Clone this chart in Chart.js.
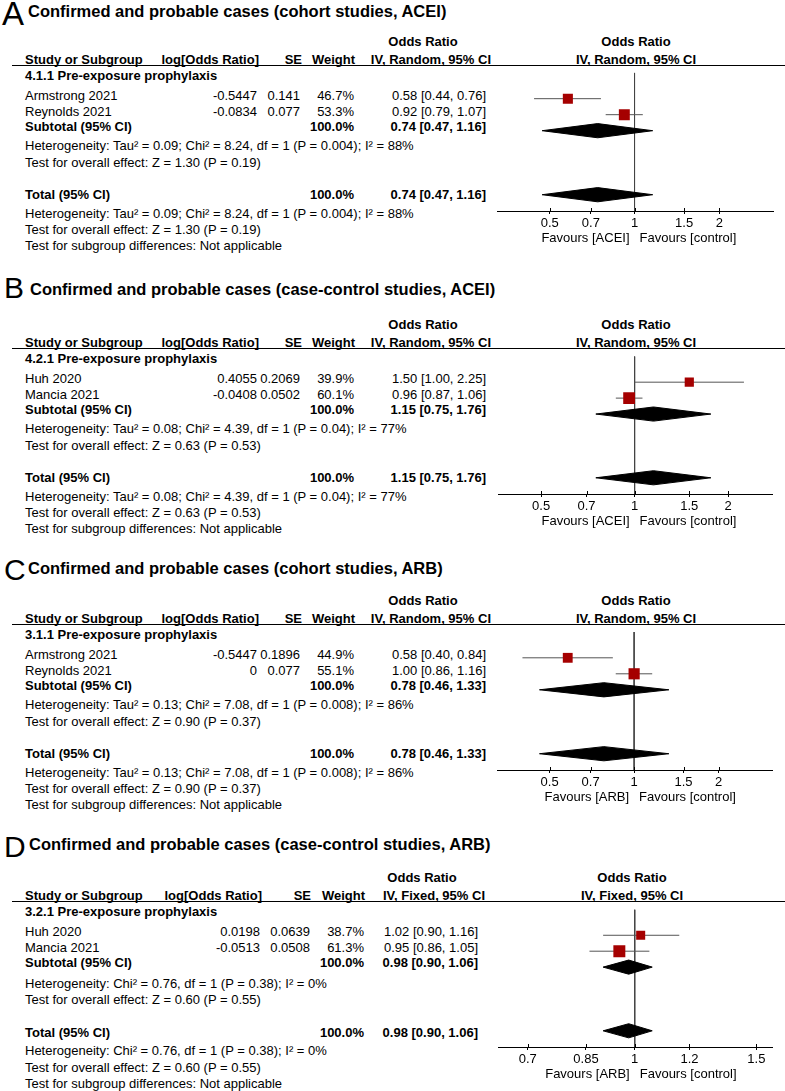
<!DOCTYPE html>
<html>
<head>
<meta charset="utf-8">
<script src="https://cdn.jsdelivr.net/npm/chart.js@4.4.0/dist/chart.umd.min.js"></script>
<style>
  html, body { margin: 0; padding: 0; background: #fff; }
  #page { position: relative; width: 785px; height: 1091px; overflow: hidden;
          font-family: "Liberation Sans", Arial, sans-serif; color: #000; }
  .t { position: absolute; white-space: nowrap; line-height: 1; font-size: 13px; }
  .b { font-weight: bold; }
  .rule { position: absolute; height: 1px; background: #000; }
  canvas { position: absolute; }
</style>
</head>
<body>
<div id="page"></div>
<script>
// ---- data ----
const panelLetters = ["A", "B", "C", "D"];
const titles = [
  "Confirmed and probable cases (cohort studies, ACEI)",
  "Confirmed and probable cases (case-control studies, ACEI)",
  "Confirmed and probable cases (cohort studies, ARB)",
  "Confirmed and probable cases (case-control studies, ARB)"
];
const methods = ["IV, Random, 95% CI", "IV, Random, 95% CI", "IV, Random, 95% CI", "IV, Fixed, 95% CI"];
const groupLabels = [
  "4.1.1 Pre-exposure prophylaxis",
  "4.2.1 Pre-exposure prophylaxis",
  "3.1.1 Pre-exposure prophylaxis",
  "3.2.1 Pre-exposure prophylaxis"
];
const studyNames = [
  ["Armstrong 2021", "Reynolds 2021"],
  ["Huh 2020", "Mancia 2021"],
  ["Armstrong 2021", "Reynolds 2021"],
  ["Huh 2020", "Mancia 2021"]
];
const logOddsRatio = [["-0.5447", "-0.0834"], ["0.4055", "-0.0408"], ["-0.5447", "0"], ["0.0198", "-0.0513"]];
const stdErrors = [["0.141", "0.077"], ["0.2069", "0.0502"], ["0.1896", "0.077"], ["0.0639", "0.0508"]];
const weights = [[46.7, 53.3], [39.9, 60.1], [44.9, 55.1], [38.7, 61.3]];
const oddsRatios = [[0.58, 0.92], [1.50, 0.96], [0.58, 1.00], [1.02, 0.95]];
const ciLower = [[0.44, 0.79], [1.00, 0.87], [0.40, 0.86], [0.90, 0.86]];
const ciUpper = [[0.76, 1.07], [2.25, 1.06], [0.84, 1.16], [1.16, 1.05]];
const pooledOR = [0.74, 1.15, 0.78, 0.98];
const pooledLower = [0.47, 0.75, 0.46, 0.90];
const pooledUpper = [1.16, 1.76, 1.33, 1.06];
const heterogeneity = [
  "Heterogeneity: Tau² = 0.09; Chi² = 8.24, df = 1 (P = 0.004); I² = 88%",
  "Heterogeneity: Tau² = 0.08; Chi² = 4.39, df = 1 (P = 0.04); I² = 77%",
  "Heterogeneity: Tau² = 0.13; Chi² = 7.08, df = 1 (P = 0.008); I² = 86%",
  "Heterogeneity: Chi² = 0.76, df = 1 (P = 0.38); I² = 0%"
];
const overallEffect = [
  "Test for overall effect: Z = 1.30 (P = 0.19)",
  "Test for overall effect: Z = 0.63 (P = 0.53)",
  "Test for overall effect: Z = 0.90 (P = 0.37)",
  "Test for overall effect: Z = 0.60 (P = 0.55)"
];
const subgroupTest = "Test for subgroup differences: Not applicable";
const favoursLeft = ["Favours [ACEI]", "Favours [ACEI]", "Favours [ARB]", "Favours [ARB]"];
const favoursRight = "Favours [control]";
const tickLabels = [
  ["0.5", "0.7", "1", "1.5", "2"],
  ["0.5", "0.7", "1", "1.5", "2"],
  ["0.5", "0.7", "1", "1.5", "2"],
  ["0.7", "0.85", "1", "1.2", "1.5"]
];

// ---- layout ----
const panelTop = [0, 283, 559, 836];
const titleY = [11, 289, 568, 844];
const titleX = [28, 30, 28, 29];
const letterY = [12.5, 288, 570, 847];
const letterSize = [33, 30, 30, 30];
const lowerShift = [0, 0, 0, 1.5];
const axisRange = [[0.327, 3.1], [0.364, 2.77], [0.327, 3.1], [0.635, 1.58]];
const plotLeft = [497, 497, 497, 491];
const plotRight = [773, 772, 772, 772];
const colsABC = { logH: 259, logV: 257, seH: 302, seV: 300, wH: 355, wV: 354, ciH: 491, ciV: 486, orC: 423, plotC: 636 };
const colsD = { logH: 262, logV: 260, seH: 311, seV: 310, wH: 365, wV: 364, ciH: 485, ciV: 478, orC: 422, plotC: 632 };
const Y = { orHead: 41, colHead: 59, rule: 65, group: 75, study: [95, 111], subtotal: 125.5,
            het: 145, test: 161.5, total: 194, het2: 212.5, test2: 229, subgroup: 245, axis: 211, favours: 237 };
const ROW_PX = 16.9;      // pixels per plot row
const GROUP_PX = 75.5;    // pixel of row index 0
const DIAMOND_HALF = 7.5; // px
const CANVAS_LEFT = 490, CANVAS_W = 295, CANVAS_H = 172;
const FONT = '"Liberation Sans", Arial, sans-serif';

const page = document.getElementById('page');

function addText(x, y, str, align, bold, size) {
  const el = document.createElement('div');
  el.className = 't' + (bold ? ' b' : '');
  el.textContent = str;
  el.style.left = x + 'px';
  el.style.top = y + 'px';
  if (size) el.style.fontSize = size + 'px';
  const tx = align === 'right' ? '-100%' : align === 'center' ? '-50%' : '0';
  el.style.transform = 'translate(' + tx + ', -50%)';
  page.appendChild(el);
}

// short tick stubs above the axis line (the library draws the part below)
const tickStubs = {
  id: 'tickStubs',
  afterDraw(chart) {
    const s = chart.scales.x, ctx = chart.ctx;
    ctx.save();
    ctx.strokeStyle = '#000';
    ctx.lineWidth = 1;
    s.ticks.forEach(t => {
      const px = Math.round(s.getPixelForValue(t.value)) + 0.5;
      ctx.beginPath();
      ctx.moveTo(px, s.top - 3);
      ctx.lineTo(px, s.top);
      ctx.stroke();
    });
    ctx.restore();
  }
};

function buildPanel(p) {
  const top = panelTop[p];
  const c = p === 3 ? colsD : colsABC;
  const ls = lowerShift[p];

  addText(p === 0 ? 2 : 4, letterY[p], panelLetters[p], 'left', false, letterSize[p]);
  addText(titleX[p], titleY[p], titles[p], 'left', true, 16.5);

  addText(c.orC, top + Y.orHead, 'Odds Ratio', 'center', true);
  addText(c.plotC, top + Y.orHead, 'Odds Ratio', 'center', true);
  addText(25, top + Y.colHead, 'Study or Subgroup', 'left', true);
  addText(c.logH, top + Y.colHead, 'log[Odds Ratio]', 'right', true);
  addText(c.seH, top + Y.colHead, 'SE', 'right', true);
  addText(c.wH, top + Y.colHead, 'Weight', 'right', true);
  addText(c.ciH, top + Y.colHead, methods[p], 'right', true);
  addText(c.plotC, top + Y.colHead, methods[p], 'center', true);

  const rule = document.createElement('div');
  rule.className = 'rule';
  rule.style.left = '12px';
  rule.style.width = '773px';
  rule.style.top = (top + Y.rule) + 'px';
  page.appendChild(rule);

  addText(25, top + Y.group, groupLabels[p], 'left', true);
  studyNames[p].forEach((n, i) => {
    const y = top + Y.study[i];
    addText(25, y, n, 'left', false);
    addText(c.logV, y, logOddsRatio[p][i], 'right', false);
    addText(c.seV, y, stdErrors[p][i], 'right', false);
    addText(c.wV, y, weights[p][i].toFixed(1) + '%', 'right', false);
    addText(c.ciV, y, oddsRatios[p][i].toFixed(2) + ' [' + ciLower[p][i].toFixed(2) + ', ' + ciUpper[p][i].toFixed(2) + ']', 'right', false);
  });
  const pooledText = pooledOR[p].toFixed(2) + ' [' + pooledLower[p].toFixed(2) + ', ' + pooledUpper[p].toFixed(2) + ']';
  const wSum = weights[p].reduce((a, b) => a + b, 0).toFixed(1) + '%';

  addText(25, top + Y.subtotal, 'Subtotal (95% CI)', 'left', true);
  addText(c.wV, top + Y.subtotal, wSum, 'right', true);
  addText(c.ciV, top + Y.subtotal, pooledText, 'right', true);
  addText(25, top + Y.het + ls, heterogeneity[p], 'left', false);
  addText(25, top + Y.test + ls, overallEffect[p], 'left', false);

  addText(25, top + Y.total + ls, 'Total (95% CI)', 'left', true);
  addText(c.wV, top + Y.total + ls, wSum, 'right', true);
  addText(c.ciV, top + Y.total + ls, pooledText, 'right', true);
  addText(25, top + Y.het2 + ls, heterogeneity[p], 'left', false);
  addText(25, top + Y.test2 + ls, overallEffect[p], 'left', false);
  addText(25, top + Y.subgroup + ls, subgroupTest, 'left', false);

  // forest plot
  const canvas = document.createElement('canvas');
  canvas.width = CANVAS_W;
  canvas.height = CANVAS_H;
  canvas.style.left = CANVAS_LEFT + 'px';
  canvas.style.top = (top + Y.rule) + 'px';
  page.appendChild(canvas);

  const yMin = (Y.rule - GROUP_PX) / ROW_PX;
  const yMax = (Y.axis - GROUP_PX) / ROW_PX;
  const dh = DIAMOND_HALF / ROW_PX;
  const subtotalRow = studyNames[p].length + 1;
  const totalRow = 7;

  const datasets = [];
  datasets.push({
    type: 'scatter',
    data: oddsRatios[p].map((v, i) => ({ x: v, y: i + 1 })),
    pointStyle: 'rect',
    pointRadius: weights[p].map(w => (4 + 0.13 * w) / Math.SQRT2),
    backgroundColor: '#a50000',
    borderWidth: 0
  });
  [subtotalRow, totalRow].forEach(r => {
    datasets.push({
      type: 'line',
      data: [
        { x: pooledLower[p], y: r },
        { x: pooledOR[p], y: r - dh },
        { x: pooledUpper[p], y: r },
        { x: pooledOR[p], y: r + dh },
        { x: pooledLower[p], y: r }
      ],
      fill: 'shape',
      backgroundColor: '#000',
      borderColor: '#000',
      borderWidth: 1,
      pointRadius: 0,
      tension: 0
    });
  });
  studyNames[p].forEach((n, i) => {
    datasets.push({
      type: 'line',
      data: [{ x: ciLower[p][i], y: i + 1 }, { x: ciUpper[p][i], y: i + 1 }],
      borderColor: '#555',
      borderWidth: 1,
      pointRadius: 0,
      fill: false
    });
  });
  datasets.push({
    type: 'line',
    data: [{ x: 1, y: yMin }, { x: 1, y: yMax }],
    borderColor: '#444',
    borderWidth: 1,
    pointRadius: 0,
    fill: false
  });

  const chart = new Chart(canvas, {
    type: 'scatter',
    data: { datasets: datasets },
    options: {
      responsive: false,
      animation: false,
      devicePixelRatio: 1,
      layout: {
        padding: {
          left: plotLeft[p] - CANVAS_LEFT,
          right: CANVAS_LEFT + CANVAS_W - plotRight[p],
          top: 0,
          bottom: CANVAS_H - (Y.axis - Y.rule) - 22.6
        }
      },
      plugins: { legend: { display: false }, tooltip: { enabled: false } },
      scales: {
        x: {
          type: 'logarithmic',
          min: axisRange[p][0],
          max: axisRange[p][1],
          afterBuildTicks: s => {
            // the log scale rounds its limits; keep the exact range of the figure
            s.min = axisRange[p][0];
            s.max = axisRange[p][1];
            s.ticks = tickLabels[p].map(v => ({ value: Number(v) }));
          },
          ticks: {
            callback: (v, i) => tickLabels[p][i],
            color: '#000',
            font: { family: FONT, size: 13 },
            padding: 2,
            maxRotation: 0,
            autoSkip: false
          },
          grid: { drawOnChartArea: false, drawTicks: true, tickLength: 3, color: '#000' },
          border: { display: true, color: '#000', width: 1 }
        },
        y: { type: 'linear', display: false, min: yMin, max: yMax, reverse: true }
      }
    },
    plugins: [tickStubs]
  });

  const x1 = CANVAS_LEFT + chart.scales.x.getPixelForValue(1);
  addText(x1 - 5, top + Y.favours, favoursLeft[p], 'right', false);
  addText(x1 + 5, top + Y.favours, favoursRight, 'left', false);
}

for (let p = 0; p < 4; p++) buildPanel(p);
</script>
</body>
</html>
